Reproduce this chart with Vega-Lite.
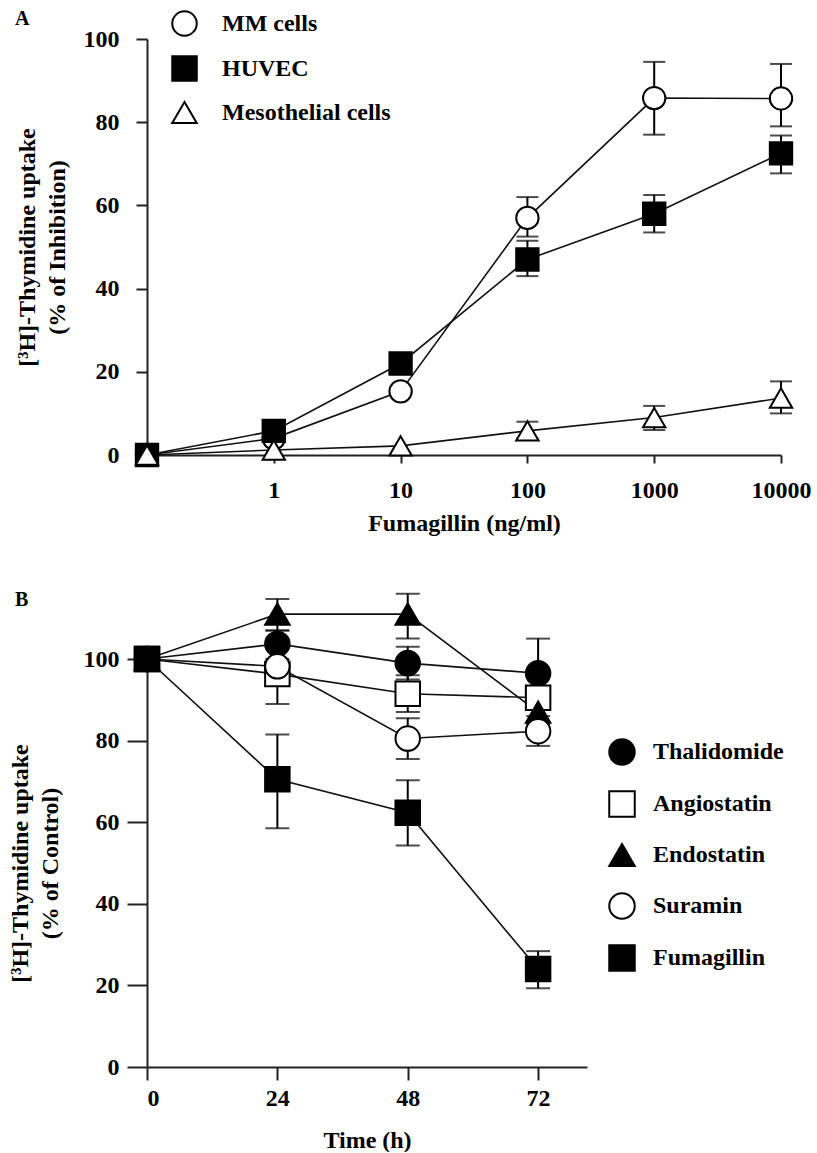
{
  "$schema": "https://vega.github.io/schema/vega-lite/v6.json",
  "padding": {"left": 8, "top": 9, "right": 5, "bottom": 0},
  "bounds": "flush",
  "spacing": 204,
  "resolve": {"scale": {"shape": "independent", "fill": "independent", "stroke": "independent", "x": "independent", "y": "independent"}},
  "datasets": {
    "a": [
      {"series": "MM cells", "dose": "0", "y": 0},
      {"series": "MM cells", "dose": "1", "y": 4},
      {"series": "MM cells", "dose": "10", "y": 15.3},
      {"series": "MM cells", "dose": "100", "y": 57, "lo": 52.5, "hi": 62},
      {"series": "MM cells", "dose": "1000", "y": 85.8, "lo": 77, "hi": 94.5},
      {"series": "MM cells", "dose": "10000", "y": 85.7, "lo": 79, "hi": 94},
      {"series": "HUVEC", "dose": "0", "y": 0},
      {"series": "HUVEC", "dose": "1", "y": 5.8},
      {"series": "HUVEC", "dose": "10", "y": 22, "lo": 20, "hi": 24},
      {"series": "HUVEC", "dose": "100", "y": 47, "lo": 43, "hi": 51.5},
      {"series": "HUVEC", "dose": "1000", "y": 58, "lo": 53.5, "hi": 62.5},
      {"series": "HUVEC", "dose": "10000", "y": 72.5, "lo": 67.7, "hi": 76.8},
      {"series": "Mesothelial cells", "dose": "0", "y": 0},
      {"series": "Mesothelial cells", "dose": "1", "y": 1.2},
      {"series": "Mesothelial cells", "dose": "10", "y": 2.2},
      {"series": "Mesothelial cells", "dose": "100", "y": 5.8, "lo": 4, "hi": 8},
      {"series": "Mesothelial cells", "dose": "1000", "y": 9, "lo": 6, "hi": 11.8},
      {"series": "Mesothelial cells", "dose": "10000", "y": 13.7, "lo": 10, "hi": 17.7}
    ],
    "b": [
      {"series": "Thalidomide", "t": 0, "y": 100},
      {"series": "Thalidomide", "t": 24, "y": 103.7, "lo": 100, "hi": 107},
      {"series": "Thalidomide", "t": 48, "y": 99, "lo": 95, "hi": 103},
      {"series": "Thalidomide", "t": 72, "y": 96.5, "lo": 88, "hi": 105},
      {"series": "Angiostatin", "t": 0, "y": 100},
      {"series": "Angiostatin", "t": 24, "y": 96.3, "lo": 89, "hi": 103.5},
      {"series": "Angiostatin", "t": 48, "y": 91.5, "lo": 87, "hi": 96},
      {"series": "Angiostatin", "t": 72, "y": 90.5, "lo": 88, "hi": 93},
      {"series": "Endostatin", "t": 0, "y": 100},
      {"series": "Endostatin", "t": 24, "y": 111, "lo": 107, "hi": 114.7},
      {"series": "Endostatin", "t": 48, "y": 111, "lo": 105, "hi": 116},
      {"series": "Endostatin", "t": 72, "y": 87, "lo": 84, "hi": 90},
      {"series": "Suramin", "t": 0, "y": 100},
      {"series": "Suramin", "t": 24, "y": 98.2},
      {"series": "Suramin", "t": 48, "y": 80.5, "lo": 75.5, "hi": 85.5},
      {"series": "Suramin", "t": 72, "y": 82.3, "lo": 78.7, "hi": 86},
      {"series": "Fumagillin", "t": 0, "y": 100},
      {"series": "Fumagillin", "t": 24, "y": 70.5, "lo": 58.5, "hi": 81.5},
      {"series": "Fumagillin", "t": 48, "y": 62.3, "lo": 54.3, "hi": 70.3},
      {"series": "Fumagillin", "t": 72, "y": 24, "lo": 19.3, "hi": 28.4}
    ]
  },
  "vconcat": [
    {
      "width": 634,
      "height": 416,
      "title": {"text": "A", "anchor": "start", "frame": "group", "dx": -132, "offset": 0, "dy": 19},
      "data": {"name": "a"},
      "encoding": {
        "x": {
          "field": "dose", "type": "ordinal",
          "scale": {"type": "point", "domain": ["0", "1", "10", "100", "1000", "10000"], "padding": 0},
          "axis": {"values": ["1", "10", "100", "1000", "10000"], "labelAngle": 0, "tickSize": 8, "labelPadding": 15, "title": "Fumagillin (ng/ml)", "titlePadding": 9}
        }
      },
      "layer": [
        {
          "mark": {"type": "line", "color": "#111", "strokeWidth": 1.6},
          "encoding": {
            "y": {"field": "y", "type": "quantitative", "scale": {"domain": [0, 100]},
              "axis": {"values": [0, 20, 40, 60, 80, 100], "tickSize": 11, "labelPadding": 17,
                "title": ["[³H]-Thymidine uptake", "(% of Inhibition)"], "titlePadding": 14, "titleLineHeight": 30}},
            "detail": {"field": "series"}
          }
        },
        {
          "transform": [{"filter": "isValid(datum.lo)"}],
          "mark": {"type": "errorbar", "color": "black", "thickness": 2, "ticks": {"size": 22, "thickness": 2}},
          "encoding": {
            "y": {"field": "lo", "type": "quantitative",
              "axis": {"values": [0, 20, 40, 60, 80, 100], "tickSize": 11, "labelPadding": 17,
                "title": ["[³H]-Thymidine uptake", "(% of Inhibition)"], "titlePadding": 14, "titleLineHeight": 30}},
            "y2": {"field": "hi"}
          }
        },
        {
          "mark": {"type": "point", "filled": true, "strokeWidth": 2, "opacity": 1, "size": 500},
          "encoding": {
            "y": {"field": "y", "type": "quantitative",
              "axis": {"values": [0, 20, 40, 60, 80, 100], "tickSize": 11, "labelPadding": 17,
                "title": ["[³H]-Thymidine uptake", "(% of Inhibition)"], "titlePadding": 14, "titleLineHeight": 30}},
            "shape": {"field": "series", "type": "nominal",
              "scale": {"domain": ["MM cells", "HUVEC", "Mesothelial cells"], "range": ["circle", "square", "triangle-up"]},
              "legend": {"orient": "none", "legendX": 24, "legendY": -29, "title": null, "rowPadding": 12, "labelOffset": 24, "symbolSize": 600}},
            "fill": {"field": "series", "type": "nominal",
              "scale": {"domain": ["MM cells", "HUVEC", "Mesothelial cells"], "range": ["white", "black", "white"]},
              "legend": {"orient": "none", "legendX": 24, "legendY": -29, "title": null, "rowPadding": 12, "labelOffset": 24, "symbolSize": 600}},
            "stroke": {"field": "series", "type": "nominal",
              "scale": {"domain": ["MM cells", "HUVEC", "Mesothelial cells"], "range": ["black", "black", "black"]},
              "legend": {"orient": "none", "legendX": 24, "legendY": -29, "title": null, "rowPadding": 12, "labelOffset": 24, "symbolSize": 600}}
          }
        }
      ]
    },
    {
      "width": 440,
      "height": 408,
      "title": {"text": "B", "anchor": "start", "frame": "group", "dx": -132, "offset": 0, "dy": 17},
      "data": {"name": "b"},
      "encoding": {
        "x": {
          "field": "t", "type": "quantitative",
          "scale": {"domain": [0, 81], "nice": false},
          "axis": {"values": [0, 24, 48, 72], "tickSize": 13, "labelPadding": 6, "title": "Time (h)", "titlePadding": 18}
        }
      },
      "layer": [
        {
          "mark": {"type": "line", "color": "#111", "strokeWidth": 1.6},
          "encoding": {
            "y": {"field": "y", "type": "quantitative", "scale": {"domain": [0, 100]},
              "axis": {"values": [0, 20, 40, 60, 80, 100], "tickSize": 20, "labelPadding": 8,
                "title": ["[³H]-Thymidine uptake", "(% of Control)"], "titlePadding": 21, "titleLineHeight": 30}},
            "detail": {"field": "series"}
          }
        },
        {
          "transform": [{"filter": "isValid(datum.lo)"}],
          "mark": {"type": "errorbar", "color": "black", "thickness": 2, "ticks": {"size": 24, "thickness": 2}},
          "encoding": {
            "y": {"field": "lo", "type": "quantitative",
              "axis": {"values": [0, 20, 40, 60, 80, 100], "tickSize": 20, "labelPadding": 8,
                "title": ["[³H]-Thymidine uptake", "(% of Control)"], "titlePadding": 21, "titleLineHeight": 30}},
            "y2": {"field": "hi"}
          }
        },
        {
          "mark": {"type": "point", "filled": true, "strokeWidth": 2, "opacity": 1, "size": 600},
          "encoding": {
            "y": {"field": "y", "type": "quantitative",
              "axis": {"values": [0, 20, 40, 60, 80, 100], "tickSize": 20, "labelPadding": 8,
                "title": ["[³H]-Thymidine uptake", "(% of Control)"], "titlePadding": 21, "titleLineHeight": 30}},
            "shape": {"field": "series", "type": "nominal",
              "scale": {"domain": ["Thalidomide", "Angiostatin", "Endostatin", "Suramin", "Fumagillin"], "range": ["circle", "square", "triangle-up", "circle", "square"]},
              "legend": {"orient": "none", "legendX": 461, "legendY": 79, "title": null, "rowPadding": 18, "labelOffset": 17, "symbolSize": 650}},
            "fill": {"field": "series", "type": "nominal",
              "scale": {"domain": ["Thalidomide", "Angiostatin", "Endostatin", "Suramin", "Fumagillin"], "range": ["black", "white", "black", "white", "black"]},
              "legend": {"orient": "none", "legendX": 461, "legendY": 79, "title": null, "rowPadding": 18, "labelOffset": 17, "symbolSize": 650}},
            "stroke": {"field": "series", "type": "nominal",
              "scale": {"domain": ["Thalidomide", "Angiostatin", "Endostatin", "Suramin", "Fumagillin"], "range": ["black", "black", "black", "black", "black"]},
              "legend": {"orient": "none", "legendX": 461, "legendY": 79, "title": null, "rowPadding": 18, "labelOffset": 17, "symbolSize": 650}}
          }
        }
      ]
    }
  ],
  "config": {
    "view": {"stroke": null},
    "font": "Liberation Serif",
    "title": {"font": "Liberation Serif", "fontSize": 20, "fontWeight": "bold", "color": "black"},
    "axis": {
      "grid": false,
      "labelFont": "Liberation Serif", "labelFontSize": 24, "labelFontWeight": "bold", "labelColor": "black",
      "titleFont": "Liberation Serif", "titleFontSize": 24, "titleFontWeight": "bold", "titleColor": "black",
      "domainColor": "#222", "domainWidth": 2, "tickColor": "#222", "tickWidth": 2
    },
    "legend": {
      "labelFont": "Liberation Serif", "labelFontSize": 24, "labelFontWeight": "bold", "labelColor": "black",
      "symbolStrokeWidth": 2, "padding": 0, "labelLimit": 400
    }
  }
}
